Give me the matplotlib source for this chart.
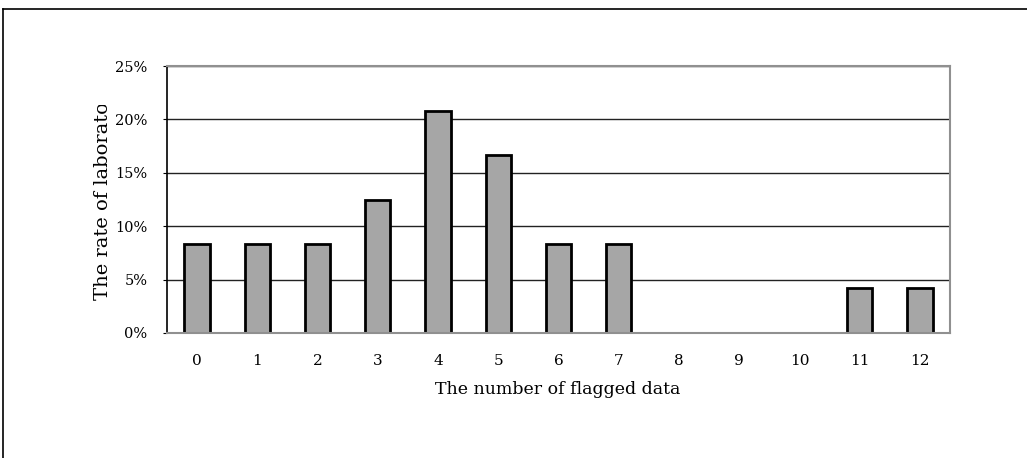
import matplotlib
matplotlib.use("Agg")
import matplotlib.pyplot as plt
from matplotlib.lines import Line2D
from matplotlib.transforms import Bbox, TransformedBbox
from matplotlib.ticker import FuncFormatter

categories = ["0", "1", "2", "3", "4", "5", "6", "7", "8", "9", "10", "11", "12"]
rates = [8.33, 8.33, 8.33, 12.5, 20.83, 16.67, 8.33, 8.33, 0, 0, 0, 4.17, 4.17]
yticks = [0, 5, 10, 15, 20, 25]

W, H = 1027, 458
fig = plt.figure(figsize=(W / 100, H / 100), dpi=100)
plt.rcParams['font.family'] = ['DejaVu Serif']

L, R, T, B = 167, 950, 66, 333
ax = fig.add_axes([L / W, 1 - B / H, (R - L) / W, (B - T) / H])

x = list(range(len(categories)))
ax.bar(x, rates, width=0.42, color="#a6a6a6", edgecolor="black", linewidth=2, zorder=3)
ax.set_xlim(-0.5, len(categories) - 0.5)
ax.set_ylim(0, 25)
ax.set_yticks(yticks)
ax.yaxis.set_major_formatter(FuncFormatter(lambda v, p: f"{int(v)}%"))
ax.set_xticks(x)
ax.set_xticklabels(categories)
ax.tick_params(axis="x", length=0, pad=15, labelsize=11, colors="black")
ax.tick_params(axis="y", length=3, pad=11, labelsize=10.5, colors="black", direction="out")
ax.grid(axis="y", color="#222222", linewidth=1.0, zorder=0)
for s in ["top", "right", "bottom"]:
    ax.spines[s].set_color("#909090")
    ax.spines[s].set_linewidth(1.5)
ax.spines["left"].set_color("black")
ax.spines["left"].set_linewidth(1.2)
ax.spines["bottom"].set_zorder(4)

fig.text(558 / W, 1 - 390 / H, "The number of flagged data",
         ha="center", va="center", fontsize=12.5)

yl = fig.text(103 / W, 1 - 300 / H, "The rate of laboratories", rotation=90,
              ha="center", va="bottom", fontsize=14)
yl.set_clip_box(TransformedBbox(Bbox([[0, 0], [1, 1 - 105 / H]]), fig.transFigure))
yl.set_clip_on(True)

fig.add_artist(Line2D([3 / W, 1], [1 - 9 / H, 1 - 9 / H], transform=fig.transFigure,
                      color="black", linewidth=1.2))
fig.add_artist(Line2D([3 / W, 3 / W], [0, 1 - 9 / H], transform=fig.transFigure,
                      color="black", linewidth=1.2))

fig.savefig("out.png", dpi=100)
